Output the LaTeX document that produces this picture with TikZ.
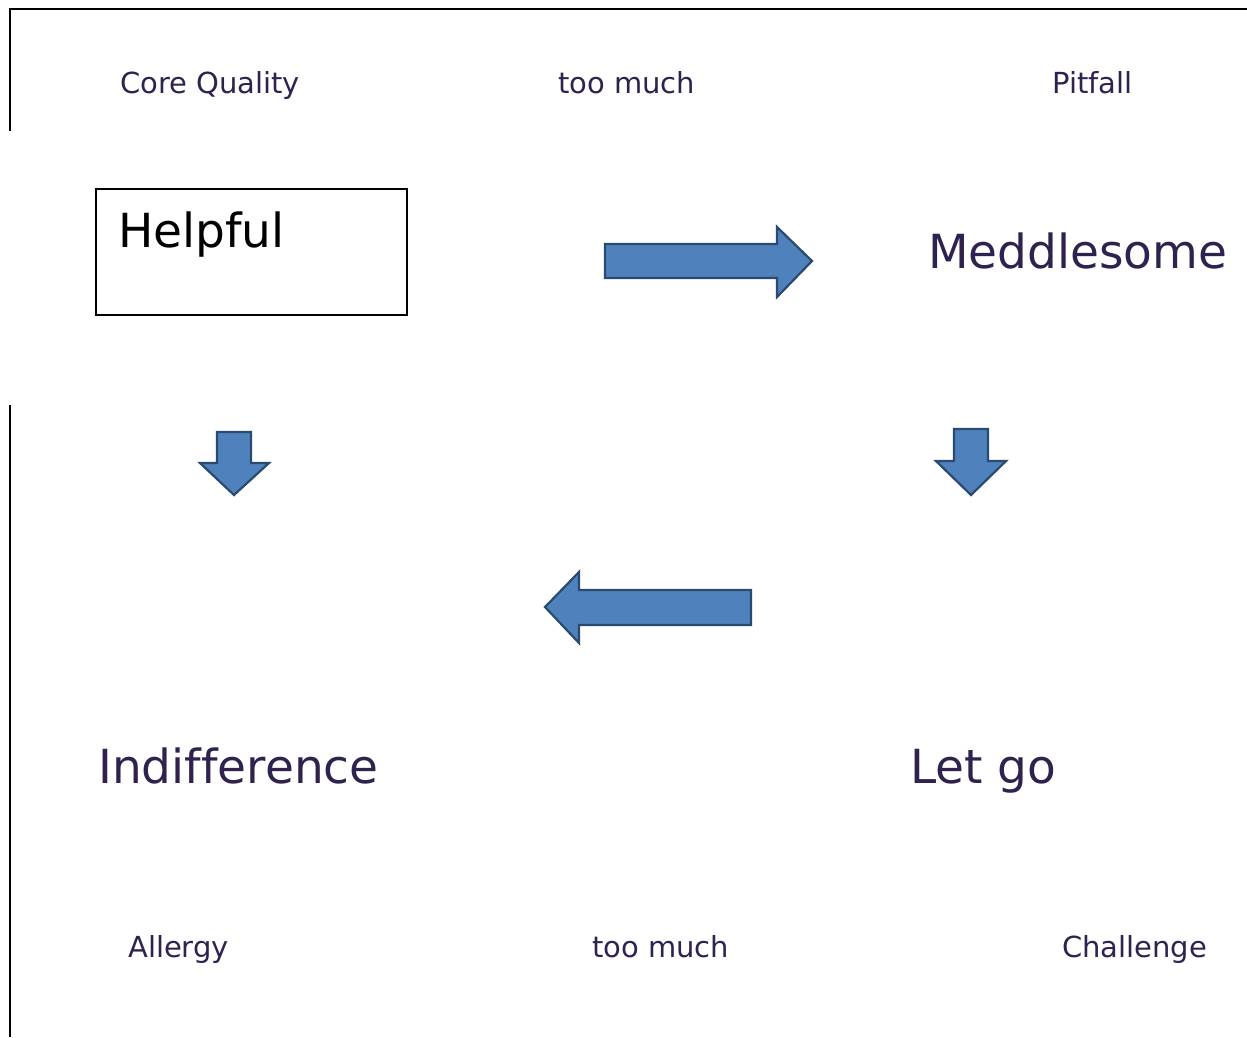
\documentclass[tikz,border=0pt]{standalone}
\usepackage{fontspec}
\setmainfont{DejaVu Sans}[Ligatures=NoCommon]
\definecolor{txt}{HTML}{30224F}
\definecolor{afill}{HTML}{4F81BD}
\definecolor{aline}{HTML}{2A4A70}
\begin{document}
\begin{tikzpicture}[x=1pt,y=-1pt,
  small/.style={anchor=base west,inner sep=0pt,text=txt,font=\fontsize{29}{34}\selectfont},
  big/.style={anchor=base west,inner sep=0pt,text=txt,font=\fontsize{47}{56}\selectfont},
  blockarrow/.style={fill=afill,draw=aline,line width=2.2pt,line join=miter},
  frame/.style={draw=black,line width=2.5pt}]
\useasboundingbox (0,0) rectangle (1247,1037);
% frame lines
\draw[frame] (10,131) -- (10,9) -- (1247,9);
\draw[frame] (10,405) -- (10,1037);
% labels
\node[small] (cq) at (120,93) {Core Quality};
\node[small] (tm1) at (558,93) {too much};
\node[small] (pf) at (1052,93) {Pitfall};
\node[small] (al) at (128,957) {Allergy};
\node[small] (tm2) at (592,957) {too much};
\node[small] (ch) at (1062,957) {Challenge};
% box
\draw[line width=1.7pt] (96,189) rectangle (407,315);
\node[big,text=black] (help) at (118,247) {Helpful};
\node[big] (med) at (928,268) {Meddlesome};
\node[big] (ind) at (98,783) {Indifference};
\node[big] (let) at (910,783) {Let go};
% arrows
\draw[blockarrow] (605,244) -- (777,244) -- (777,227) -- (812,261) -- (777,297) -- (777,278) -- (605,278) -- cycle;
\draw[blockarrow] (217,432) -- (251,432) -- (251,463) -- (269,463) -- (234,495) -- (200,463) -- (217,463) -- cycle;
\draw[blockarrow] (954,429) -- (988,429) -- (988,461) -- (1006,461) -- (971,495) -- (936,461) -- (954,461) -- cycle;
\draw[blockarrow] (751,590) -- (579,590) -- (579,572) -- (545,607) -- (579,643) -- (579,625) -- (751,625) -- cycle;
\end{tikzpicture}
\end{document}
